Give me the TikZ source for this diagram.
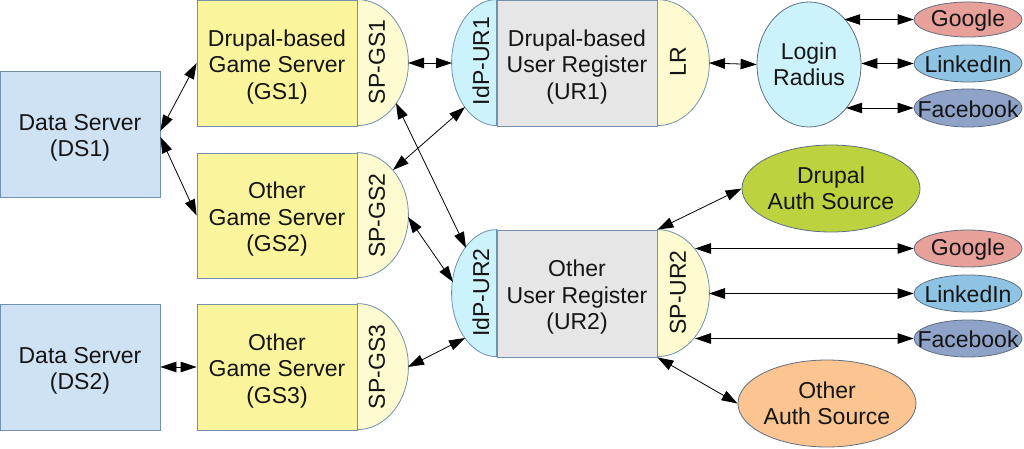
\documentclass[tikz,border=0pt]{standalone}
\usepackage{fontspec}
\setmainfont{Liberation Sans}
\usetikzlibrary{arrows.meta,shapes.geometric}
\definecolor{dsfill}{HTML}{CFE2F3}
\definecolor{gsfill}{HTML}{FAF59C}
\definecolor{spfill}{HTML}{FDFBCF}
\definecolor{urfill}{HTML}{E6E6E6}
\definecolor{idpfill}{HTML}{CCF3FB}
\definecolor{bord}{HTML}{7090B0}
\definecolor{ebord}{HTML}{5F6F80}
\definecolor{gfill}{HTML}{E8A09A}
\definecolor{lfill}{HTML}{8EC3E3}
\definecolor{ffill}{HTML}{8FA2C8}
\definecolor{dafill}{HTML}{BDD23F}
\definecolor{oafill}{HTML}{FBC490}
\definecolor{txt}{HTML}{151515}
\begin{document}
\begin{tikzpicture}[x=1pt,y=-1pt,
  font=\fontsize{23}{26.5}\selectfont, text=txt,
  box/.style={draw=bord, line width=0.8pt, rectangle, inner sep=0pt, minimum width=160pt},
  btxt/.style={align=center, yshift=-4pt},
  etxt/.style={align=center},
  ell/.style={draw=ebord, line width=0.8pt, ellipse, inner sep=0pt},
  side/.style={draw=bord, line width=0.8pt},
  arr/.style={{Triangle[length=16pt,width=10.5pt]}-{Triangle[length=16pt,width=10.5pt]}, line width=0.8pt, draw=black},
  vlab/.style={rotate=90, inner sep=0pt}]
\useasboundingbox (0,0) rectangle (1024,449);

% data servers
\node[box, fill=dsfill, minimum height=126pt, label={[btxt]center:Data Server\\(DS1)}] (ds1) at (80,134) {};
\node[box, fill=dsfill, minimum height=126pt, label={[btxt]center:Data Server\\(DS2)}] (ds2) at (80,367) {};

% game servers
\node[box, fill=gsfill, minimum height=126pt, label={[btxt]center:Drupal-based\\Game Server\\(GS1)}] (gs1) at (277,63) {};
\node[box, fill=gsfill, minimum height=125pt, label={[btxt]center:Other\\Game Server\\(GS2)}] (gs2) at (277,215.5) {};
\node[box, fill=gsfill, minimum height=126pt, label={[btxt]center:Other\\Game Server\\(GS3)}] (gs3) at (277,367) {};
\draw[side, fill=spfill] (gs1.north east) arc[start angle=-90, end angle=90, x radius=51, y radius=63] -- cycle;
\draw[side, fill=spfill] (gs2.north east) arc[start angle=-90, end angle=90, x radius=51, y radius=62.5] -- cycle;
\draw[side, fill=spfill] (gs3.north east) arc[start angle=-90, end angle=90, x radius=51, y radius=63] -- cycle;
\node[vlab] (lsp1) at (377,62) {SP-GS1};
\node[vlab] (lsp2) at (377,215.5) {SP-GS2};
\node[vlab] (lsp3) at (377,367) {SP-GS3};

% user registers
\node[box, fill=urfill, minimum height=126pt, label={[btxt]center:Drupal-based\\User Register\\(UR1)}] (ur1) at (577,63) {};
\node[box, fill=urfill, minimum height=127pt, label={[btxt]center:Other\\User Register\\(UR2)}] (ur2) at (577,293.5) {};
\draw[side, fill=idpfill] (ur1.north west) arc[start angle=270, end angle=90, x radius=45, y radius=63] -- cycle;
\draw[side, fill=idpfill] (ur2.north west) arc[start angle=270, end angle=90, x radius=45, y radius=63.5] -- cycle;
\draw[side, fill=spfill] (ur1.north east) arc[start angle=-90, end angle=90, x radius=52, y radius=63] -- cycle;
\draw[side, fill=spfill] (ur2.north east) arc[start angle=-90, end angle=90, x radius=52, y radius=63.5] -- cycle;
\node[vlab] (lidp1) at (481,61) {IdP-UR1};
\node[vlab] (lidp2) at (481,292.5) {IdP-UR2};
\node[vlab] (llr) at (678,62) {LR};
\node[vlab] (lspur2) at (678,292.5) {SP-UR2};

% ellipses
\node[ell, fill=idpfill, minimum width=104pt, minimum height=125pt,
  label={[etxt]center:Login\\Radius}] (lrad) at (809,64.5) {};
\node[ell, fill=gfill, minimum width=108pt, minimum height=35pt, label={[yshift=-1pt]center:Google}] (g1) at (968,19.5) {};
\node[ell, fill=lfill, minimum width=108pt, minimum height=37pt, label={[yshift=-1pt]center:LinkedIn}] (l1) at (968,63.5) {};
\node[ell, fill=ffill, minimum width=108pt, minimum height=38pt, label={[yshift=-1pt]center:Facebook}] (f1) at (968,108) {};
\node[ell, fill=gfill, minimum width=108pt, minimum height=37pt, label={[yshift=-1pt]center:Google}] (g2) at (968,248.5) {};
\node[ell, fill=lfill, minimum width=108pt, minimum height=37pt, label={[yshift=-1pt]center:LinkedIn}] (l2) at (968,293.5) {};
\node[ell, fill=ffill, minimum width=108pt, minimum height=37pt, label={[yshift=-1pt]center:Facebook}] (f2) at (968,338.5) {};
\node[ell, fill=dafill, minimum width=178pt, minimum height=87pt,
  label={[etxt]center:Drupal\\Auth Source}] (drup) at (831,188.5) {};
\node[ell, fill=oafill, minimum width=178pt, minimum height=87pt,
  label={[etxt]center:Other\\Auth Source}] (oth) at (827,403.5) {};

% boundary points of the rounded sides
\coordinate (sp1e) at (408,63);
\coordinate (sp1s) at (396,103);
\coordinate (sp2n) at (393,170);
\coordinate (sp2e) at (408,217);
\coordinate (sp3e) at (408,367);
\coordinate (idp1w) at (452,63);
\coordinate (idp1s) at (465,107);
\coordinate (idp2a) at (466,248);
\coordinate (idp2b) at (453,282);
\coordinate (idp2c) at (465,338);
\coordinate (lre) at (709,63);
\coordinate (spa) at (695,248.5);
\coordinate (spb) at (709,293.5);
\coordinate (spc) at (695,338.5);

% connectors
\draw[arr] ([yshift=3pt]ds1.east) -- (gs1.west);
\draw[arr] ([yshift=-3pt]ds1.east) -- (gs2.west);
\draw[arr] (ds2.east) -- (gs3.west);
\draw[arr] (sp1e) -- (idp1w);
\draw[arr] (sp1s) -- (idp2a);
\draw[arr] (sp2n) -- (idp1s);
\draw[arr] (sp2e) -- (idp2b);
\draw[arr] (sp3e) -- (idp2c);
\draw[arr] (lre) -- (lrad.west);
\draw[arr] (lrad.53 |- g1.west) -- (g1.west);
\draw[arr] (lrad.east |- l1.west) -- (l1.west);
\draw[arr] (lrad.-50 |- f1.west) -- (f1.west);
\draw[arr] (ur2.north east) -- (drup.west);
\draw[arr] (spa) -- (g2.west);
\draw[arr] (spb) -- (l2.west);
\draw[arr] (spc) -- (f2.west);
\draw[arr] (ur2.south east) -- (oth.west);
\end{tikzpicture}
\end{document}
